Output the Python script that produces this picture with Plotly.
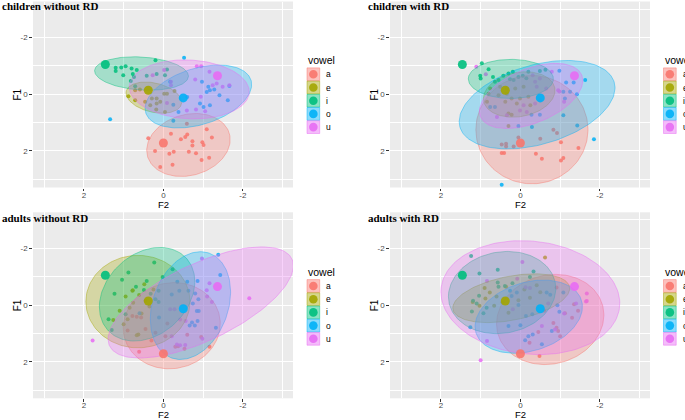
import numpy as np
import plotly.graph_objects as go

# ---------------- data ----------------
VOWELS = ["a", "e", "i", "o", "u"]
COLORS = ["#F8766D", "#A3A500", "#00BF7D", "#00B0F6", "#E76BF3"]
PANEL_TITLES = ["children without RD", "children with RD", "adults without RD", "adults with RD"]
TICK_VALS = [2, 0, -2]
TICK_TEXT = ["2", "0", "-2"]

# centroids (F2, F1), same in every panel
CENT_F2 = [0.0, 0.38, 1.46, -0.50, -1.36]
CENT_F1 = [1.72, -0.14, -1.05, 0.13, -0.65]

# ellipse parameters per panel, order a e i o u : centre F2, centre F1, sd F2, sd F1, correlation
ELL_P1 = {"cx": [-0.63, 0.24, 0.55, -0.88, -0.65], "cy": [1.79, 0.12, -0.73, 0.08, -0.17],
          "sx": [1.05, 0.70, 1.18, 1.34, 1.51], "sy": [1.11, 0.55, 0.59, 1.11, 1.04],
          "r": [0.17, -0.30, -0.16, 0.38, -0.08]}
ELL_P2 = {"cx": [-0.29, 0.03, 0.24, -0.42, -0.27], "cy": [1.25, 0.01, -0.54, 0.37, 0.06],
          "sx": [1.41, 0.90, 1.07, 1.96, 1.30], "sy": [1.91, 0.80, 0.69, 1.56, 1.15],
          "r": [0.0, 0.18, 0.0, 0.38, 0.47]}
ELL_P3 = {"cx": [-0.21, 0.64, 0.41, -0.68, -0.94], "cy": [0.73, -0.12, -0.38, 0.02, -0.09],
          "sx": [1.22, 1.31, 1.20, 1.01, 2.33], "sy": [1.52, 1.63, 1.65, 1.90, 1.96],
          "r": [0.05, 0.0, 0.27, 0.25, 0.66]}
ELL_P4 = {"cx": [-0.75, 0.23, 0.46, -0.21, -0.25], "cy": [0.51, -0.24, -0.44, 0.41, -0.26],
          "sx": [1.35, 1.47, 1.35, 1.35, 2.25], "sy": [1.59, 0.86, 1.45, 1.29, 2.01],
          "r": [0.10, 0.40, 0.10, 0.27, -0.10]}

# individual points (F2, F1)
p1_a = [(0.38, 1.55), (-0.19, 1.39), (-0.60, 1.42), (-0.55, 1.51), (-0.44, 1.59), (-0.73, 1.66), (-0.73, 1.81),
        (-0.98, 1.69), (-1.01, 1.79), (-1.22, 1.53), (-1.09, 1.24), (0.21, 2.0), (-0.15, 2.10), (-0.26, 2.03),
        (-0.64, 2.03), (-0.82, 2.08), (-1.15, 2.24), (-0.96, 2.32), (-0.23, 2.49), (0.08, 2.57), (-0.59, 1.04)]
p1_e = [(0.88, 0.07), (0.71, -0.14), (0.59, -0.17), (0.71, 0.21), (0.29, 0.15), (0.17, 0.15), (0.08, 0.27),
        (-0.02, -0.02), (-0.09, -0.02), (-0.28, -0.11), (0.33, 0.39), (0.17, 0.33), (0.18, 0.54), (-0.04, 0.63),
        (0.46, 0.27)]
p1_i = [(1.20, -0.93), (1.20, -0.82), (1.06, -0.94), (0.95, -0.99), (0.80, -0.91), (0.67, -0.85), (1.01, -0.67),
        (0.77, -0.71), (0.74, -0.61), (0.82, -0.47), (0.20, -1.20), (0.42, -0.65), (0.17, -0.71), (-0.04, -0.67),
        (-0.09, -0.87), (0.71, -0.28)]
p1_o = [(-0.52, -1.29), (-0.97, -0.44), (-1.13, -0.26), (-1.28, -0.17), (-1.17, -0.14), (-1.09, -0.08),
        (-1.41, 0.04), (-1.62, 0.21), (-0.92, 0.33), (-1.01, 0.45), (-1.17, 0.39), (-0.25, 0.37), (-0.38, 0.63),
        (1.34, 0.88), (-1.66, -0.29), (-0.25, 0.94), (-0.17, -0.44), (-0.60, 0.10)]
p1_u = [(-0.84, -0.99), (-0.95, -0.99), (-1.16, -0.79), (-0.80, -0.52), (-1.24, -0.32), (-1.49, -0.26),
        (-1.66, -0.32), (-1.34, -0.38), (-0.94, 0.09), (-0.82, 0.54), (-1.05, 0.60), (-0.09, 0.31), (-0.02, -0.85),
        (0.27, -0.67), (-0.19, -0.44), (-0.19, -0.32), (-0.59, 0.57)]

p2_a = [(0.47, 1.77), (0.36, 1.75), (0.36, 1.84), (0.17, 1.84), (0.05, 1.53), (-0.50, 1.57), (-0.83, 1.25),
        (-0.92, 1.37), (-1.02, 1.69), (0.47, 2.07), (0.41, 2.07), (-0.39, 2.10), (-0.54, 2.28), (-1.02, 2.34),
        (-1.08, 2.25), (-1.46, 1.90)]
p2_e = [(0.76, -0.20), (0.51, -0.26), (0.34, -0.20), (0.13, -0.20), (-0.08, -0.26), (0.80, -0.02), (0.55, 0.04),
        (0.34, -0.02), (0.22, 0.15), (0.01, 0.15), (-0.20, 0.09), (0.84, 0.27), (0.38, 0.27), (0.09, 0.33),
        (-0.25, 0.39), (0.30, 0.68), (0.22, 0.72), (0.30, 1.12)]
p2_i = [(0.97, -1.09), (0.80, -0.88), (1.01, -0.65), (1.00, -0.55), (0.69, -0.61), (0.43, -0.65), (0.30, -0.73),
        (0.19, -0.79), (0.26, -0.53), (0.05, -0.61), (-0.06, -0.65), (-0.20, -0.79), (-0.15, -0.56), (-0.49, -0.82),
        (-0.63, -0.86), (0.64, -0.44), (0.55, -0.50), (0.17, -0.50)]
p2_o = [(-1.15, -0.41), (-1.34, -0.41), (-1.63, -0.50), (-0.98, -0.83), (-1.08, -0.09), (-1.25, -0.09),
        (-1.42, 0.0), (-1.12, 0.15), (-1.08, 0.74), (0.76, 0.45), (0.64, 0.45), (-0.49, 0.72), (-0.28, 0.72),
        (0.05, 1.12), (-0.29, 1.16), (-1.43, 1.10), (-1.85, 1.59), (0.47, 3.19)]
p2_u = [(1.11, -0.97), (0.87, -0.70), (-0.31, -0.67), (-0.37, -0.44), (-0.49, -0.55), (-0.79, -0.79),
        (-0.95, -0.14), (-0.98, -0.10), (-0.41, -0.26), (-0.65, -0.20), (-0.08, 0.39), (-0.37, 0.33), (-0.49, 0.21),
        (0.01, 0.57), (-0.16, 0.63), (0.59, 0.80), (-1.10, 0.27), (0.34, 0.74)]

p3_a = [(0.78, 0.39), (0.67, 0.41), (0.56, 0.44), (-0.53, 1.54), (-0.95, 1.13), (-1.16, 1.47), (0.61, 1.65),
        (-0.37, 1.45), (-0.30, 1.47), (0.20, 0.98), (-0.10, 0.65), (0.45, 0.85), (-0.60, 1.05), (0.30, 1.25),
        (-0.05, 1.10), (0.90, 0.90)]
p3_e = [(0.78, -0.50), (0.61, -0.35), (0.48, -0.73), (0.77, -0.52), (1.00, 0.68), (0.63, 1.04), (0.90, 0.50),
        (0.76, -0.08), (0.67, 1.07), (1.26, 0.53), (0.45, -0.15), (0.85, 0.10), (0.55, 0.30), (0.95, -0.30),
        (0.35, 0.05), (1.10, 0.20), (0.25, -0.55)]
p3_i = [(0.23, -1.50), (0.88, -1.15), (1.04, -0.89), (1.23, -0.40), (0.69, -0.64), (0.42, -0.85), (-0.23, -1.26),
        (0.02, -0.99), (0.49, -0.53), (0.12, -0.50), (0.32, -0.40), (1.30, 0.88), (0.95, 0.33), (0.12, -0.11),
        (1.38, 0.50), (0.20, -0.20)]
p3_o = [(-1.38, -1.77), (-1.43, -1.06), (-0.86, -0.85), (-0.60, -0.82), (-0.35, -0.82), (-0.63, -0.50),
        (-0.80, -0.41), (-0.88, -0.20), (-0.40, -0.50), (-0.21, -0.37), (-0.74, -0.05), (-0.84, 0.21), (-0.89, 0.21),
        (-0.66, 0.72), (-0.79, 0.72), (-0.86, 0.56), (-1.32, 0.80), (0.11, 0.44), (0.60, 0.29), (-0.72, 0.62)]
p3_u = [(-0.97, -1.64), (-1.16, -0.77), (-1.09, -0.52), (-2.16, -0.24), (-0.17, 0.15), (-0.28, 0.15),
        (-0.42, 0.51), (-0.34, 1.39), (-0.42, 1.42), (-0.56, 0.56), (-0.21, 1.10), (-0.98, 1.19), (-1.22, -0.11),
        (1.78, 1.25), (-0.55, 1.41), (-1.10, -0.30)]

p4_a = [(-0.91, -0.62), (-1.35, -0.03), (-0.83, 0.63), (-0.91, 0.80), (-0.95, 0.92), (-0.23, 1.33), (-0.48, 1.80),
        (-1.12, 0.29), (-1.30, 0.45), (-0.60, 0.20), (-1.00, 1.10), (-0.45, 0.95), (-1.45, 0.20)]
p4_e = [(-0.62, -1.68), (0.36, -0.64), (-0.41, -0.70), (0.77, -0.44), (0.88, -0.23), (1.20, -0.11), (1.03, 0.03),
        (0.66, 0.03), (0.30, 0.27), (0.05, -0.17), (-0.24, -0.26), (0.60, -0.30), (-0.10, -0.55), (0.45, -0.10),
        (-0.50, -0.45), (0.90, -0.60)]
p4_i = [(1.24, -1.73), (0.57, -1.24), (1.03, -1.11), (-0.33, -1.18), (-0.24, -0.99), (0.57, -0.79), (0.39, -0.67),
        (1.04, -0.33), (1.19, -0.15), (0.93, 0.29), (1.22, 0.23), (0.55, -0.64), (0.20, -0.77), (0.85, 0.10),
        (1.10, -0.05)]
p4_o = [(-0.66, -0.44), (0.26, -0.50), (0.22, -0.32), (0.09, -0.44), (-1.08, -0.44), (0.05, 0.0), (-0.14, 0.39),
        (-0.30, 0.33), (0.0, 0.71), (0.30, 0.74), (1.26, 0.78), (-0.93, 0.01), (-0.98, 0.24), (-0.31, 1.04),
        (-0.20, 1.10), (-0.12, 1.24), (-0.54, 1.38), (-0.79, 0.92), (-0.75, -0.36)]
p4_u = [(-0.05, -1.52), (0.84, -0.85), (0.08, -0.93), (-0.13, -0.63), (-1.67, -0.41), (-1.67, -0.14), (0.19, 0.15),
        (0.84, 1.27), (-0.70, -0.05), (-1.65, -0.12), (-0.54, 0.74), (-0.87, 0.86), (1.00, 1.95), (-1.40, -0.05),
        (-0.24, -0.60), (-1.10, 0.30)]

POINTS = [[p1_a, p1_e, p1_i, p1_o, p1_u], [p2_a, p2_e, p2_i, p2_o, p2_u],
          [p3_a, p3_e, p3_i, p3_o, p3_u], [p4_a, p4_e, p4_i, p4_o, p4_u]]
ELLIPSES = [ELL_P1, ELL_P2, ELL_P3, ELL_P4]

# ---------------- layout helpers ----------------
W, H = 685, 420
X_DOM = [(33, 293), (390, 650), (33, 293), (390, 650)]
Y_DOM = [(1.5, 187.5), (1.5, 187.5), (212.3, 398.3), (212.3, 398.3)]
F2_RANGE = [3.28, -3.26]
F1_RANGE = [3.29, -3.27]


def px(x):
    return x / W


def py(y):
    return 1 - y / H


def rgba(hex_color, a):
    h = hex_color.lstrip("#")
    r, g, b = int(h[0:2], 16), int(h[2:4], 16), int(h[4:6], 16)
    return f"rgba({r},{g},{b},{a})"


fig = go.Figure()
t = np.linspace(0, 2 * np.pi, 150)

for k in range(4):
    xa = "x" if k == 0 else f"x{k+1}"
    ya = "y" if k == 0 else f"y{k+1}"
    # points
    for v in range(5):
        pts = POINTS[k][v]
        fig.add_trace(go.Scatter(x=[p[0] for p in pts], y=[p[1] for p in pts], mode="markers",
                                 marker=dict(size=4, color=COLORS[v], opacity=0.85, line=dict(width=0)),
                                 xaxis=xa, yaxis=ya, showlegend=False, hoverinfo="skip"))
    # ellipses
    E = ELLIPSES[k]
    for v in range(5):
        cx, cy, sx, sy, r = E["cx"][v], E["cy"][v], E["sx"][v], E["sy"][v], E["r"][v]
        ex = cx + sx * np.cos(t)
        ey = cy + sy * (r * np.cos(t) + np.sqrt(1 - r * r) * np.sin(t))
        fig.add_trace(go.Scatter(x=ex, y=ey, mode="lines", fill="toself",
                                 fillcolor=rgba(COLORS[v], 0.3),
                                 line=dict(color=rgba(COLORS[v], 0.55), width=0.8),
                                 xaxis=xa, yaxis=ya, showlegend=False, hoverinfo="skip"))
    # centroids
    for v in range(5):
        fig.add_trace(go.Scatter(x=[CENT_F2[v]], y=[CENT_F1[v]], mode="markers",
                                 marker=dict(size=9, color=COLORS[v], opacity=0.9, line=dict(width=0)),
                                 xaxis=xa, yaxis=ya, showlegend=False, hoverinfo="skip"))

layout = dict(width=W, height=H, margin=dict(l=0, r=0, t=0, b=0),
              paper_bgcolor="white", plot_bgcolor="#EBEBEB", showlegend=False)

axis_common = dict(showgrid=True, gridcolor="white", gridwidth=1.1, zeroline=False, showline=False,
                   ticks="outside", ticklen=2.7, tickwidth=1, tickcolor="#333333",
                   tickfont=dict(family="Liberation Sans, Arial", size=8, color="#4D4D4D"),
                   tickvals=TICK_VALS, ticktext=TICK_TEXT, fixedrange=True,
                   minor=dict(tickvals=[-3, -1, 1, 3], showgrid=True, gridcolor="white",
                              gridwidth=0.5, ticks=""))

annotations = []
shapes = []
for k in range(4):
    xn = "xaxis" if k == 0 else f"xaxis{k+1}"
    yn = "yaxis" if k == 0 else f"yaxis{k+1}"
    ya = "y" if k == 0 else f"y{k+1}"
    xa = "x" if k == 0 else f"x{k+1}"
    layout[xn] = dict(axis_common, domain=[px(X_DOM[k][0]), px(X_DOM[k][1])], range=F2_RANGE, anchor=ya,
                      ticklabelstandoff=-3 if k < 2 else -4)
    layout[yn] = dict(axis_common, domain=[py(Y_DOM[k][1]), py(Y_DOM[k][0])], range=F1_RANGE, anchor=xa)

    x0, x1 = X_DOM[k]
    y0, y1 = Y_DOM[k]
    xc = (x0 + x1) / 2
    # axis titles
    f2_off = 16.5 if k < 2 else 16.0
    annotations.append(dict(text="F2", x=px(xc), y=py(y1 + f2_off), xref="paper", yref="paper",
                            showarrow=False, xanchor="center", yanchor="middle", borderpad=0,
                            font=dict(family="Liberation Sans, Arial", size=9.5, color="black")))
    annotations.append(dict(text="F1", x=px(x0 - 16), y=py((y0 + y1) / 2), xref="paper", yref="paper",
                            showarrow=False, xanchor="center", yanchor="middle", textangle=-90,
                            font=dict(family="Liberation Sans, Arial", size=10, color="black")))
    # panel title
    tx = 0 if k % 2 == 0 else 366
    ty = 6 if k < 2 else 218
    annotations.append(dict(text="<b>" + PANEL_TITLES[k] + "</b>", x=px(tx), y=py(ty), xref="paper",
                            yref="paper", showarrow=False, xanchor="left", yanchor="middle",
                            font=dict(family="Liberation Serif, Times New Roman", size=11, color="black")))
    # legend
    lx = 307 if k % 2 == 0 else 663.5
    ly_title = 60 if k < 2 else 271.7
    ly0 = 74.3 if k < 2 else 286
    annotations.append(dict(text="vowel", x=px(lx - 1), y=py(ly_title), xref="paper", yref="paper",
                            showarrow=False, xanchor="left", yanchor="middle",
                            font=dict(family="Liberation Sans, Arial", size=10.5, color="black")))
    for v in range(5):
        cyy = ly0 + v * 13.2
        shapes.append(dict(type="rect", xref="paper", yref="paper",
                           x0=px(lx), x1=px(lx + 12.7), y0=py(cyy + 6.4), y1=py(cyy - 6.4),
                           fillcolor=rgba(COLORS[v], 0.45), line=dict(color=rgba(COLORS[v], 0.6), width=0.8)))
        shapes.append(dict(type="circle", xref="paper", yref="paper",
                           x0=px(lx + 6.35 - 4.3), x1=px(lx + 6.35 + 4.3), y0=py(cyy + 4.3), y1=py(cyy - 4.3),
                           fillcolor=rgba(COLORS[v], 0.9), line=dict(width=0)))
        annotations.append(dict(text=VOWELS[v], x=px(lx + 17), y=py(cyy), xref="paper", yref="paper",
                                showarrow=False, xanchor="left", yanchor="middle",
                                font=dict(family="Liberation Sans, Arial", size=8.5, color="black")))

layout["annotations"] = annotations
layout["shapes"] = shapes
fig.update_layout(**layout)
fig.write_html("out.html")
